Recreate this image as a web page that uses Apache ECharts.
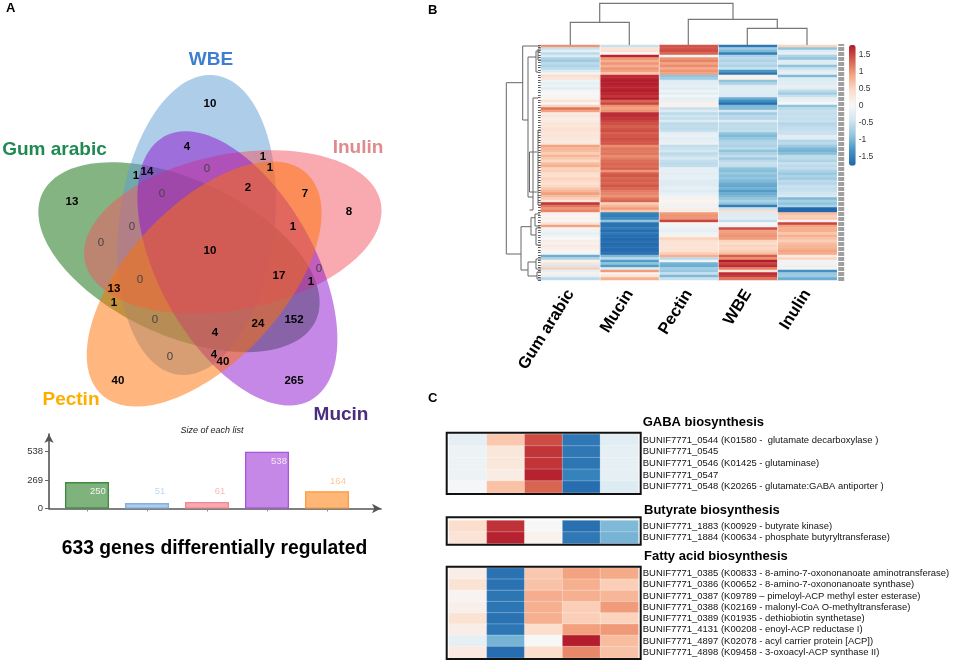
<!DOCTYPE html>
<html><head><meta charset="utf-8">
<style>html,body{margin:0;padding:0;background:#fff}#c{width:964px;height:661px}</style>
<script src="https://cdn.jsdelivr.net/npm/echarts@6/dist/echarts.min.js"></script>
</head><body><div id="c"></div>
<script>
const FONT = 'Liberation Sans';
/* ---------- Panel A: Venn ---------- */
const setNames = ['Gum arabic','WBE','Inulin','Mucin','Pectin'];
const setFill = ['rgba(10,105,5,.5)','rgba(93,155,211,.5)','rgba(243,85,97,.5)','rgba(141,17,205,.5)','rgba(255,111,0,.5)'];
const setTurn = [288,0,72,144,216];
const setNameColors = ['#1E8A50','#3F7FD0','#E08A90','#4B2D7F','#FFAE00'];
const setNamePos = [[54.5,150],[211,60],[358,148],[341,415],[71,400]];
const vennCenter = [210,253.3];
const eggOffset = [-13.3,-28.3];
const eggRadii = [150.8,77.8];
const eggTilt = 6.9;
const vennCounts = ['10','4','1','1','14','1','2','7','13','8','1','10','17','1','13','1','152','24','4','4','40','40','265'];
const vennCountPos = [[210,104],[187,147],[263,157],[270,168],[147,172],[136,176],[248,188],[305,194],[72,202],[349,212],[293,227],[210,251],[279,276],[311,282],[114,289],[114,303],[294,320],[258,324],[215,333],[214,355],[223,362],[118,381],[294,381]];
const vennZeroes = ['0','0','0','0','0','0','0','0'];
const vennZeroPos = [[207,169],[162,194],[132,227],[101,243],[319,269],[140,280],[155,320],[170,357]];
/* ---------- Panel A: bars ---------- */
const listSizes = [250,51,61,538,164];
const barFill = ['#80B27E','#AECDE9','#F9AAB0','#C688E6','#FFB778'];
const barEdge = ['#3E8A3E','#7FB0E0','#F08890','#A855DC','#FF9A40'];
const barLabelColor = ['#F3F7F1','#BFD9F2','#F9B9BE','#F4E6FB','#FFC795'];
const barLabelShift = [[11,19],[13,-2],[13,-1],[12,20],[11,0]];
/* ---------- Panel B ---------- */
const columns = ['Gum arabic','Mucin','Pectin','WBE','Inulin'];
const heatRows = [
[1.0,-.5,1.4,-1.6,.5],[-.5,.3,1.4,-.8,-.9],[-.2,.35,1.45,-1.0,-.3],[-.6,0,1.3,-1.55,-.2],[-.3,1.7,0,-.7,-.7],
[-.7,1.0,1.0,-.6,-.9],[-.8,.8,1.1,-.7,-.3],[-.6,1.0,.9,-.6,-.3],[-.7,.8,1.05,-.7,-.9],[-.6,1.0,.85,-.5,-.5],
[-.3,.9,1.0,-1.3,-.25],[-.1,.6,.9,-1.6,-.2],[.4,1.65,-.9,.1,-1.0],[.3,1.7,-.8,.1,-.3],[-.1,1.75,-.3,-.9,-.3],
[-.2,1.75,-.25,-.7,-.25],[-.1,1.7,-.2,-.3,-.2],[-.25,1.7,-.3,-.25,-.25],[-.05,1.75,-.1,-.3,-.6],[0,1.7,-.25,-.3,-.8],
[.05,1.6,-.05,-.3,-.5],[.05,1.75,-.2,-1.1,-.2],[.3,1.3,-.15,-1.4,-.15],[0,1.5,.1,-1.7,0],[.5,1.0,.1,-1.0,-.9],
[1.2,.9,-.5,-1.0,-.6],[.9,1.0,-.3,-.4,-.5],[.2,1.65,-.6,-.8,-.55],[.25,1.65,-.45,-.6,-.5],[.15,1.6,-.55,-.65,-.55],
[.2,1.5,-.3,-.3,-.5],[.3,1.45,-.6,-.6,-.65],[.25,1.35,-.55,-.55,-.6],[.35,1.4,-.6,-.6,-.55],[.3,1.45,-.5,-.55,-.5],
[.25,1.35,-.2,-.9,-.5],[.3,1.4,-.15,-1.0,-.25],[.25,1.45,-.25,-.85,-.3],[.2,1.4,-.2,-.7,-.65],[.25,1.4,-.15,-.65,-.6],
[.9,1.05,-.55,-.7,-.8],[.75,1.2,-.5,-.6,-1.0],[.7,1.15,-.4,-.9,-1.05],[.55,1.2,-.6,-.7,-.95],[.75,1.05,-.5,-.55,-.6],
[.6,1.15,-.35,-.8,-.6],[.45,1.25,-.55,-.6,-.7],[.7,1.3,-.6,-.5,-.5],[.8,1.25,-.55,-.55,-.6],[.5,1.35,-.2,-.9,-.55],
[.55,1.0,-.2,-.95,-.7],[.4,1.35,-.25,-.85,-.85],[.35,1.4,-.2,-.95,-.7],[.5,1.3,-.2,-.9,-.8],[.45,1.35,-.3,-1.0,-.6],
[.35,1.3,-.3,-1.1,-.65],[.45,1.4,-.25,-1.15,-.5],[.6,1.3,-.2,-1.05,-.55],[.75,1.15,-.3,-1.25,-.5],[.95,1.1,-.2,-1.1,-.45],
[.7,1.0,-.1,-1.0,-.35],[.55,1.2,.1,-.9,-1.0],[.25,1.3,.05,-.7,-.75],[1.6,.55,.1,-.9,-.9],[1.2,.75,-.1,-1.55,-.7],
[1.0,.95,.15,-.5,-1.75],[1.1,.6,.15,.4,-1.75],[.1,-1.5,.95,-.3,.7],[.05,-1.55,1.0,-.3,.55],[.1,-1.45,1.0,-.25,.6],
[.05,-.9,1.5,-.55,.1],[.3,-1.65,.05,0,1.5],[.9,-1.65,-.1,-.1,.9],[.1,-1.55,-.15,1.45,.8],[-.1,-1.7,-.2,.9,.8],
[-.2,-1.6,-.1,.95,.6],[-.1,-1.7,.1,1.0,.8],[0,-1.75,.5,.95,.65],[.15,-1.7,.35,.5,.55],[.1,-1.75,.3,.4,.7],
[.2,-1.7,.3,.5,.75],[.15,-1.72,.3,.45,.8],[.05,-1.72,.35,.55,.9],[-.05,-1.68,.55,.7,.85],[-1.1,-1.0,.8,1.35,.2],
[-.7,-.6,-.6,1.0,.5],[.1,-1.25,-.1,1.75,-.1],[.3,-.9,-1.05,1.5,.1],[-.4,-1.25,-1.1,1.65,-.15],[.55,-.3,-.75,1.1,.1],
[-.2,.95,-.85,.3,-1.35],[.1,.1,-.5,1.65,-.85],[-.2,.3,-1.0,1.55,-.8],[-.6,.8,-.5,1.2,-1.1]
];
const colorbarTicks = [-1.5,-1,-.5,0,.5,1,1.5];
const colorStops = ['#2166ac','#4393c3','#92c5de','#d1e5f0','#f7f7f7','#fddbc7','#f4a582','#d6604d','#b2182b'];
/* dendrograms: [stem, from, end1, to, end2] */
const topTree = [[22.3,570.3,45,629.3,45],[28.3,747.3,45,807,45],[19.3,688.3,45,777.3,28.3],[3.3,599.7,22.3,733,19.3]];
const leftTree = [[506.3,82.7,522.7,254,521],[522.7,46,540,120,528],[528,57,536,197,533],[536,51,540,72,538],[538,49,541,60,541],
[533,98,538,210,529.5],[529.5,152,537,192,537],[538,130,541,205,541],[521,226.7,531,270,528],[531,217.7,535,235,536],[535,214,540,226,540],
[536,228,541,245,541],[528,262,536,276,537],[536,259,541,269,541],[537,272,541,279,541]];
/* ---------- Panel C ---------- */
const gabaGenes = ['BUNIF7771_0544 (K01580 -  glutamate decarboxylase )','BUNIF7771_0545','BUNIF7771_0546 (K01425 - glutaminase)','BUNIF7771_0547','BUNIF7771_0548 (K20265 - glutamate:GABA antiporter )'];
const gabaValues = [[-.22,.6,1.45,-1.6,-.25],[-.12,.25,1.6,-1.6,-.2],[-.12,.25,1.6,-1.62,-.2],[-.12,.18,1.72,-1.5,-.2],[-.02,.65,1.3,-1.7,-.3]];
const butyrateGenes = ['BUNIF7771_1883 (K00929 - butyrate kinase)','BUNIF7771_1884 (K00634 - phosphate butyryltransferase)'];
const butyrateValues = [[.4,1.62,0,-1.68,-1.0],[.3,1.72,.1,-1.6,-1.05]];
const fattyGenes = ['BUNIF7771_0385 (K00833 - 8-amino-7-oxononanoate aminotransferase)','BUNIF7771_0386 (K00652 - 8-amino-7-oxononanoate synthase)','BUNIF7771_0387 (K09789 – pimeloyl-ACP methyl ester esterase)','BUNIF7771_0388 (K02169 - malonyl-CoA O-methyltransferase)','BUNIF7771_0389 (K01935 - dethiobiotin synthetase)','BUNIF7771_4131 (K00208 - enoyl-ACP reductase I)','BUNIF7771_4897 (K02078 - acyl carrier protein [ACP])','BUNIF7771_4898 (K09458 - 3-oxoacyl-ACP synthase II)'];
const fattyValues = [[.15,-1.66,.6,.9,.85],[.32,-1.66,.65,.8,.55],[.06,-1.62,.82,.8,.75],[.12,-1.62,.8,.55,.95],[.32,-1.66,.8,.55,.5],[.15,-1.62,.4,.92,.97],[-.2,-1.05,0,1.75,.7],[.2,-1.7,.4,1.08,.65]];
const frames = [[446.7,432.7,194,61.3],[446.7,517.3,194,27.4],[446.7,566.7,194,92.3]];
const sectionTitles = ['GABA biosynthesis','Butyrate biosynthesis','Fatty acid biosynthesis'];
const sectionPos = [[642.7,422.7],[644,510],[644,556.7]];
const panelLabels = ['A','B','C'];
const panelPos = [[6,8],[428,10],[428,398]];

function txt(labels,pos,style,colors){
  return {type:'scatter',xAxisIndex:0,yAxisIndex:0,symbolSize:1,silent:true,z:20,
    itemStyle:{color:'transparent',opacity:1},
    data:pos.map((p,i)=>({value:p,name:labels[i],label:colors?{color:colors[i]}:undefined})),
    label:Object.assign({show:true,position:'inside',formatter:'{b}',fontFamily:FONT,align:'center',verticalAlign:'middle',color:'#000',textBorderWidth:0},style)};
}
function cells(rows,gi){
  const d=[];rows.forEach((r,y)=>r.forEach((v,x)=>d.push([x,y,v])));
  return {type:'heatmap',xAxisIndex:gi,yAxisIndex:gi,data:d,silent:true,progressive:0,
    itemStyle:{borderWidth:gi===2?0:.6,borderColor:'rgba(255,255,255,.45)'},emphasis:{disabled:true}};
}
function treeSeries(tree,horizontal,color,width){
  return {type:'custom',xAxisIndex:0,yAxisIndex:0,silent:true,z:6,data:tree,
    encode:{x:0,y:1},clip:false,
    renderItem:(p,api)=>{
      const n=tree[p.dataIndex];
      const xy=horizontal
        ?[[n[1],n[2]],[n[1],n[0]],[n[3],n[0]],[n[3],n[4]]]
        :[[n[2],n[1]],[n[0],n[1]],[n[0],n[3]],[n[4],n[3]]];
      return {type:'polyline',shape:{points:xy.map(q=>api.coord(q))},style:{stroke:color,lineWidth:width,fill:null}};
    }};
}
const geneAxis=(names)=>({type:'category',data:names,inverse:true,position:'right',axisLine:{show:false},axisTick:{show:false},
  axisLabel:{interval:0,margin:4.5,fontSize:9.45,color:'#111',fontFamily:FONT}});
const hiddenCols={type:'category',data:columns,show:false};

const option={
  animation:false,backgroundColor:'#fff',
  grid:[
    {left:0,top:0,width:964,height:661},
    {left:49,top:434,width:332,height:74.5},
    {left:541,top:45,width:295.7,height:235},
    {left:449,top:434.3,width:189.3,height:58.4},
    {left:449,top:520.5,width:189.3,height:23},
    {left:449,top:568,width:189.3,height:89.8},
    {left:849,top:45,width:6.7,height:120.7}
  ],
  xAxis:[
    {type:'value',min:0,max:964,show:false},
    {type:'value',gridIndex:1,min:-.633,max:4.9,axisLine:{show:true,onZero:false,lineStyle:{color:'#555',width:1.6},symbol:['none','arrow'],symbolSize:[7,9]},
      axisTick:{show:true,length:3,lineStyle:{color:'#888'},customValues:[0,1,2,3,4]},axisLabel:{show:false},splitLine:{show:false}},
    {type:'category',gridIndex:2,data:columns,axisLine:{show:false},axisTick:{show:false},splitLine:{show:false},
      axisLabel:{interval:0,rotate:58,margin:11,fontSize:16.5,fontWeight:'bold',color:'#000',fontFamily:FONT}},
    Object.assign({gridIndex:3},hiddenCols),Object.assign({gridIndex:4},hiddenCols),Object.assign({gridIndex:5},hiddenCols),
    {type:'value',gridIndex:6,show:false,min:0,max:1}
  ],
  yAxis:[
    {type:'value',min:0,max:661,inverse:true,show:false},
    {type:'value',gridIndex:1,min:0,max:705.5,axisLine:{show:true,onZero:false,lineStyle:{color:'#555',width:1.6},symbol:['none','arrow'],symbolSize:[7,9]},
      axisTick:{show:true,length:4,lineStyle:{color:'#666'},customValues:[0,269,538]},
      axisLabel:{customValues:[0,269,538],fontSize:9.5,color:'#333',margin:6,fontFamily:FONT},splitLine:{show:false}},
    {type:'category',gridIndex:2,inverse:true,data:heatRows.map((r,i)=>i),position:'left',axisLine:{show:false},axisLabel:{show:false},
      axisTick:{show:true,interval:0,length:3,lineStyle:{color:'#333',width:.8}},splitLine:{show:false}},
    Object.assign({gridIndex:3},geneAxis(gabaGenes)),
    Object.assign({gridIndex:4},geneAxis(butyrateGenes)),
    Object.assign({gridIndex:5},geneAxis(fattyGenes)),
    {type:'value',gridIndex:6,min:-1.78,max:1.78,position:'right',axisLine:{show:false},axisTick:{show:false},splitLine:{show:false},
      axisLabel:{customValues:colorbarTicks,fontSize:8.5,color:'#333',margin:3,fontFamily:FONT}},
    {type:'category',gridIndex:2,inverse:true,data:heatRows.map((r,i)=>i),position:'right',offset:1.5,axisLine:{show:false},axisLabel:{show:false},
      axisTick:{show:true,interval:0,length:6,lineStyle:{color:'#9a9a9a',width:1.9}},splitLine:{show:false}}
  ],
  visualMap:{type:'continuous',min:-1.78,max:1.78,inRange:{color:colorStops},seriesIndex:[0,1,2,3],
    left:849,top:45,itemWidth:6.7,itemHeight:120.7,padding:0,calculable:false,text:null,showLabel:false,hoverLink:false,realtime:false,z:10},
  series:[
    cells(heatRows,2),cells(gabaValues,3),cells(butyrateValues,4),cells(fattyValues,5),
    /* venn sets */
    {type:'custom',xAxisIndex:0,yAxisIndex:0,silent:true,z:3,clip:false,data:setNames.map((n,i)=>[i]),encode:{x:0,y:0},
      renderItem:(p,api)=>{
        const i=p.dataIndex,t=setTurn[i]*Math.PI/180,a=(setTurn[i]+eggTilt)*Math.PI/180;
        const cx=vennCenter[0]+eggOffset[0]*Math.cos(t)-eggOffset[1]*Math.sin(t);
        const cy=vennCenter[1]+eggOffset[0]*Math.sin(t)+eggOffset[1]*Math.cos(t);
        const pts=[];
        for(let k=0;k<144;k++){
          const s=k/144*2*Math.PI,ex=eggRadii[1]*Math.cos(s),ey=eggRadii[0]*Math.sin(s);
          pts.push(api.coord([cx+ex*Math.cos(a)-ey*Math.sin(a),cy+ex*Math.sin(a)+ey*Math.cos(a)]));
        }
        return {type:'polygon',shape:{points:pts},style:{fill:setFill[i],stroke:null}};
      }},
    txt(vennCounts,vennCountPos,{fontSize:11.5,fontWeight:'bold'}),
    txt(vennZeroes,vennZeroPos,{fontSize:11.5,color:'#444'}),
    txt(setNames,setNamePos,{fontSize:19,fontWeight:'bold'},setNameColors),
    /* list-size bars */
    {type:'bar',xAxisIndex:1,yAxisIndex:1,barWidth:44,silent:true,
      data:listSizes.map((v,i)=>({value:[i,v],itemStyle:{color:barFill[i],borderColor:barEdge[i],borderWidth:1.3},
        label:{show:true,position:'top',offset:barLabelShift[i],color:barLabelColor[i],fontSize:9.5,fontFamily:FONT,formatter:String(v)}}))},
    txt(['Size of each list'],[[212,430]],{fontSize:9,fontStyle:'italic',color:'#222'}),
    txt(['633 genes differentially regulated'],[[214.5,549]],{fontSize:19.3,fontWeight:'bold'}),
    txt(sectionTitles,sectionPos,{fontSize:13,fontWeight:'bold',align:'left'}),
    txt(panelLabels,panelPos,{fontSize:13,fontWeight:'bold',align:'left'}),
    /* dendrograms */
    treeSeries(topTree,true,'#777',1.2),
    treeSeries(leftTree,false,'#666',1),
    /* column gaps of the main heat map */
    {type:'custom',xAxisIndex:2,yAxisIndex:2,silent:true,z:5,data:[0,1,2,3].map(i=>[i,0]),encode:{x:0,y:1},
      renderItem:(p,api)=>{
        const x=api.coord([p.dataIndex,0])[0]+api.size([1,0])[0]/2;
        return {type:'line',shape:{x1:x,y1:45,x2:x,y2:280},style:{stroke:'rgba(255,255,255,.6)',lineWidth:1}};
      }},
    /* panel C frames */
    {type:'custom',xAxisIndex:0,yAxisIndex:0,silent:true,z:6,data:frames,encode:{x:0,y:1},clip:false,
      renderItem:(p,api)=>{
        const f=frames[p.dataIndex],a=api.coord([f[0],f[1]]),b=api.coord([f[0]+f[2],f[1]+f[3]]);
        return {type:'rect',shape:{x:a[0],y:a[1],width:b[0]-a[0],height:b[1]-a[1]},style:{fill:null,stroke:'#111',lineWidth:2}};
      }}
  ]
};
echarts.init(document.getElementById('c')).setOption(option);
</script></body></html>
